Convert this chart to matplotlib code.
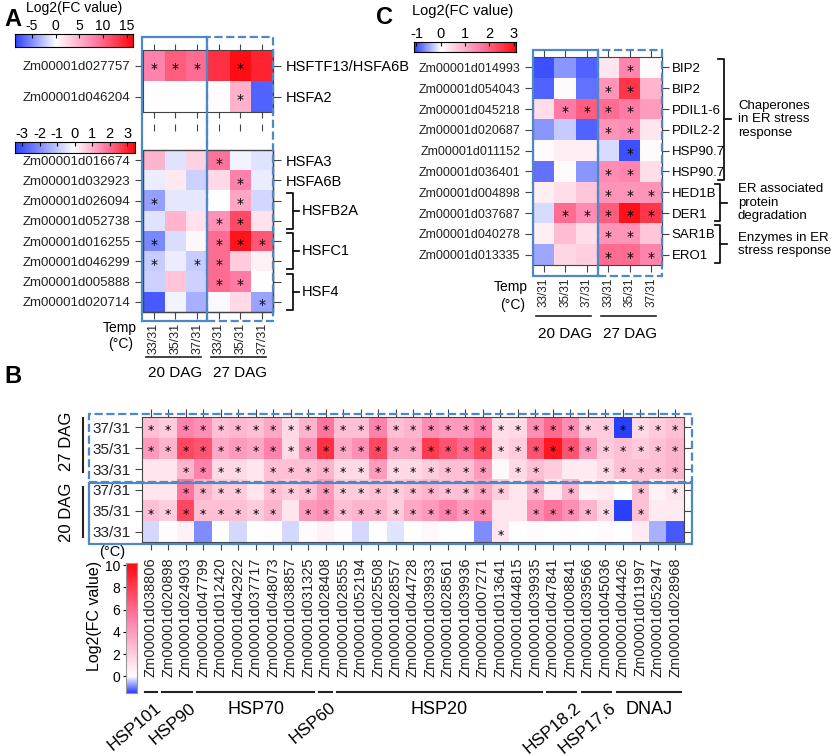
import numpy as np
import matplotlib
matplotlib.use('Agg')
import matplotlib.pyplot as plt
from matplotlib.colors import LinearSegmentedColormap, TwoSlopeNorm
from matplotlib.patches import Rectangle
from matplotlib.lines import Line2D
from matplotlib.transforms import blended_transform_factory, offset_copy

plt.rcParams['font.family'] = ['Liberation Sans', 'DejaVu Sans']
plt.rcParams['axes.unicode_minus'] = False

temps = ['33/31', '35/31', '37/31']
dag = ['20 DAG', '27 DAG']

# ---- panel A, top block (scale -8.6..16.3)
a1_genes = ['Zm00001d027757', 'Zm00001d046204']
a1_names = ['HSFTF13/HSFA6B', 'HSFA2']
a1_vals = np.array([[8.0, 10.5, 9.5, 13.5, 16.0, 14.5],
                    [0.0, 0.0, 0.0, 0.2, 5.0, -7.0]])
a1_star = np.array([[1, 1, 1, 0, 1, 0],
                    [0, 0, 0, 0, 1, 0]])

# ---- panel A, bottom block (scale -3.4..3.45)
a2_genes = ['Zm00001d016674', 'Zm00001d032923', 'Zm00001d026094', 'Zm00001d052738',
            'Zm00001d016255', 'Zm00001d046299', 'Zm00001d005888', 'Zm00001d020714']
a2_names = ['HSFA3', 'HSFA6B', '', '', '', '', '', '']
a2_groups = [('HSFB2A', 2, 3), ('HSFC1', 4, 5), ('HSF4', 6, 7)]
a2_vals = np.array([[1.0, -0.5, 0.6, 1.9, -0.2, -0.5],
                    [-0.3, 0.3, -0.8, 0.5, 1.7, -0.3],
                    [-1.7, -0.4, -0.4, 0.0, 1.2, -0.7],
                    [-0.5, 1.0, 0.4, 1.5, 2.5, 0.4],
                    [-2.1, -0.6, 0.1, 2.0, 3.3, 2.3],
                    [-0.9, -0.3, -0.9, 2.0, 0.7, 0.2],
                    [-0.8, 0.8, -0.8, 2.0, 1.8, 0.0],
                    [-2.9, -0.2, -1.4, -0.1, 0.5, -1.6]])
a2_star = np.array([[0, 0, 0, 1, 0, 0],
                    [0, 0, 0, 0, 1, 0],
                    [1, 0, 0, 0, 1, 0],
                    [0, 0, 0, 1, 1, 0],
                    [1, 0, 0, 1, 1, 1],
                    [1, 0, 1, 1, 0, 0],
                    [0, 0, 0, 1, 1, 0],
                    [0, 0, 0, 0, 0, 1]])

# ---- panel C (scale -1.1..3.1)
c_genes = ['Zm00001d014993', 'Zm00001d054043', 'Zm00001d045218', 'Zm00001d020687',
           'Zm00001d011152', 'Zm00001d036401', 'Zm00001d004898', 'Zm00001d037687',
           'Zm00001d040278', 'Zm00001d013335']
c_names = ['BIP2', 'BIP2', 'PDIL1-6', 'PDIL2-2', 'HSP90.7', 'HSP90.7',
           'HED1B', 'DER1', 'SAR1B', 'ERO1']
c_groups = [('Chaperones\nin ER stress\nresponse', 0, 5),
            ('ER associated\nprotein\ndegradation', 6, 7),
            ('Enzymes in ER\nstress response', 8, 9)]
c_vals = np.array([[-1.0, -0.6, -0.9, 0.3, 1.5, 0.05],
                   [-0.9, 0.05, -0.8, 1.3, 2.5, 0.9],
                   [0.4, 1.6, 2.0, 1.8, 1.6, 1.2],
                   [-0.6, -0.3, -0.9, 1.3, 1.4, 0.3],
                   [0.05, 0.2, 0.2, -0.2, -1.0, 0.05],
                   [-0.8, 0.05, -0.6, 1.4, 1.5, 0.4],
                   [0.2, 0.4, 0.7, 1.3, 1.3, 1.3],
                   [-0.2, 1.8, 1.4, 2.0, 3.0, 2.5],
                   [0.2, 0.8, 0.4, 1.3, 1.3, 0.7],
                   [-0.5, 0.5, 0.6, 1.8, 1.8, 1.5]])
c_star = np.array([[0, 0, 0, 0, 1, 0],
                   [0, 0, 0, 1, 1, 0],
                   [0, 1, 1, 1, 1, 0],
                   [0, 0, 0, 1, 1, 0],
                   [0, 0, 0, 0, 1, 0],
                   [0, 0, 0, 1, 1, 0],
                   [0, 0, 0, 1, 1, 1],
                   [0, 1, 1, 1, 1, 1],
                   [0, 0, 0, 1, 1, 0],
                   [0, 0, 0, 1, 1, 1]])

# ---- panel B (scale -1.5..10.2); rows: 27 DAG 37,35,33 then 20 DAG 37,35,33
b_genes = ['Zm00001d038806', 'Zm00001d020898', 'Zm00001d024903', 'Zm00001d047799',
           'Zm00001d012420', 'Zm00001d042922', 'Zm00001d037717', 'Zm00001d048073',
           'Zm00001d038857', 'Zm00001d031325', 'Zm00001d028408', 'Zm00001d028555',
           'Zm00001d052194', 'Zm00001d025508', 'Zm00001d028557', 'Zm00001d044728',
           'Zm00001d039933', 'Zm00001d028561', 'Zm00001d039936', 'Zm00001d007271',
           'Zm00001d013641', 'Zm00001d044815', 'Zm00001d039935', 'Zm00001d047841',
           'Zm00001d008841', 'Zm00001d039566', 'Zm00001d045036', 'Zm00001d044426',
           'Zm00001d011997', 'Zm00001d052947', 'Zm00001d028968']
b_rows = ['37/31', '35/31', '33/31', '37/31', '35/31', '33/31']
b_families = [('HSP101', 0, 0), ('HSP90', 1, 2), ('HSP70', 3, 9), ('HSP60', 10, 10),
              ('HSP20', 11, 22), ('HSP18.2', 23, 24), ('HSP17.6', 25, 26), ('DNAJ', 27, 30)]
b_vals = np.array([
    [2.5, 2.0, 5.0, 4.5, 2.5, 2.8, 2.5, 3.5, 1.5, 3.0, 5.5, 2.5, 2.5, 5.0, 2.5, 3.0,
     4.5, 4.0, 4.0, 5.0, 1.3, 1.5, 4.5, 6.0, 4.5, 2.0, 2.0, -1.5, 1.5, 2.0, 2.5],
    [4.0, 3.0, 7.5, 7.0, 3.5, 4.0, 3.5, 5.0, 1.5, 4.5, 8.5, 3.5, 4.5, 7.5, 3.5, 3.5,
     8.0, 7.0, 6.0, 7.5, 1.5, 2.0, 7.0, 9.5, 7.0, 4.0, 2.0, 2.5, 2.0, 2.5, 3.0],
    [1.0, 1.0, 3.0, 5.0, 1.5, 1.5, 1.0, 2.5, 2.5, 2.5, 3.0, 1.5, 1.5, 4.0, 1.5, 1.5,
     2.0, 2.5, 2.5, 4.0, 0.3, 1.5, 2.5, 2.0, 0.8, 0.8, 1.5, 2.5, 2.5, 2.5, 3.0],
    [1.0, 1.0, 5.5, 3.0, 2.0, 2.0, 1.0, 2.5, 2.0, 2.5, 4.0, 2.0, 2.0, 2.5, 2.0, 2.5,
     3.0, 2.5, 2.5, 3.5, 2.0, 1.0, 3.0, 0.8, 3.0, 0.5, 0.8, 0.0, 2.5, 0.5, 1.0],
    [2.5, 2.0, 7.5, 2.5, 2.5, 2.5, 2.0, 3.0, 1.0, 4.0, 4.5, 2.5, 3.0, 3.0, 2.0, 3.5,
     4.0, 5.0, 4.0, 4.5, 1.0, 1.0, 4.5, 5.5, 4.5, 3.0, 1.5, -1.5, 2.5, 0.8, 0.8],
    [-0.3, 0.1, 0.5, -0.9, 0.0, -0.3, 0.05, 0.1, -0.3, 0.2, 0.5, 0.1, -0.3, 0.0, -0.2, 0.0,
     0.3, 0.0, 0.05, -0.9, 1.0, 0.0, 0.2, 0.0, 0.1, 0.0, 0.2, 0.0, 0.8, -0.6, -1.3]])
b_star = np.array([
    [1] * 31,
    [1] * 31,
    [0, 0, 1, 1, 1, 1, 0, 1, 1, 1, 1, 1, 1, 1, 1, 1, 1, 1, 1, 1, 0, 1, 1, 0, 0, 0, 1, 1, 1, 1, 1],
    [0, 0, 1, 1, 1, 1, 0, 1, 1, 1, 1, 1, 1, 1, 1, 1, 1, 1, 1, 1, 1, 0, 1, 0, 1, 0, 0, 0, 1, 0, 1],
    [1, 1, 1, 1, 1, 1, 1, 1, 0, 1, 1, 1, 1, 1, 1, 1, 1, 1, 1, 1, 0, 0, 1, 1, 1, 1, 1, 0, 1, 0, 0],
    [0] * 20 + [1] + [0] * 10])

cmap = LinearSegmentedColormap.from_list(
    'fc', [(0, '#2a40ff'), (0.5, '#ffffff'), (0.75, '#ff80ac'), (1, '#ff0a10')])

W, H = 837, 756
fig = plt.figure(figsize=(W / 100, H / 100), dpi=100)


def fx(x):
    return x / W


def fy(y):
    return 1 - y / H


def add_ax(x0, y0, x1, y1):
    return fig.add_axes([fx(x0), fy(y1), (x1 - x0) / W, (y1 - y0) / H])


def ftext(x, y, s, **kw):
    fig.text(fx(x), fy(y), s, **kw)


def fline(xs, ys, **kw):
    fig.add_artist(Line2D([fx(v) for v in xs], [fy(v) for v in ys], **kw))


def fbox(x0, y0, x1, y1, ls):
    fig.add_artist(Rectangle((fx(x0), fy(y1)), (x1 - x0) / W, (y1 - y0) / H,
                             transform=fig.transFigure, fill=False,
                             ec='#4f88c6', lw=1.6, ls=ls, zorder=5))


def heatmap(rect, vals, stars, vmin, vmax, star_size=10):
    ax = add_ax(*rect)
    norm = TwoSlopeNorm(vcenter=0, vmin=vmin, vmax=vmax)
    ax.imshow(vals, cmap=cmap, norm=norm, aspect='auto', interpolation='nearest')
    tr = offset_copy(ax.transData, fig=fig, y=-2.5, units='points')
    for i, j in zip(*np.nonzero(stars)):
        ax.text(j, i, '*', ha='center', va='center', fontsize=star_size,
                family='DejaVu Sans', transform=tr)
    for s in ax.spines.values():
        s.set_color('#444444')
    ax.tick_params(color='#444444', labelcolor='#222222')
    return ax


def colorbar(rect, vmin, vmax, ticks, horizontal=True, labelsize=10.5):
    cax = add_ax(*rect)
    norm = TwoSlopeNorm(vcenter=0, vmin=vmin, vmax=vmax)
    grad = np.linspace(vmin, vmax, 256)
    if horizontal:
        cax.imshow(grad[None, :], extent=[vmin, vmax, 0, 1], aspect='auto',
                   cmap=cmap, norm=norm)
        cax.set_xticks(ticks)
        cax.set_yticks([])
        cax.xaxis.tick_top()
        cax.tick_params(axis='x', direction='in', length=3, labelsize=labelsize, pad=1)
    else:
        cax.imshow(grad[:, None], extent=[0, 1, vmin, vmax], origin='lower',
                   aspect='auto', cmap=cmap, norm=norm)
        cax.set_yticks(ticks)
        cax.set_xticks([])
        cax.tick_params(axis='y', direction='out', length=2, labelsize=labelsize, pad=2)
        for s in cax.spines.values():
            s.set_color('#999999')
    return cax


def bracket(ax, r0, r1, x, size=6, stub=6, lw=1.3):
    tr = blended_transform_factory(fig.transFigure, ax.transData)
    ya, yb = r0 - 0.4, r1 + 0.4
    xa, xb = fx(x), fx(x + size)
    ax.plot([xa, xb, xb, xa], [ya, ya, yb, yb], transform=tr, color='#111111',
            lw=lw, clip_on=False, solid_joinstyle='round')
    ym = (r0 + r1) / 2
    ax.plot([xb, fx(x + size + stub)], [ym, ym], transform=tr, color='#111111',
            lw=lw, clip_on=False)
    return ym


def dag_lines(ax, y_line, y_text, fontsize):
    tr = blended_transform_factory(ax.transData, fig.transFigure)
    for k, lab in enumerate(dag):
        ax.plot([3 * k - 0.35, 3 * k + 2.2], [fy(y_line)] * 2, transform=tr,
                color='#222222', lw=1.2, clip_on=False)
        ax.text(3 * k + 1, fy(y_text), lab, transform=tr, ha='center',
                va='center', fontsize=fontsize)


# ================= panel A =================
ftext(4, 20, 'A', fontsize=17, fontweight='bold', va='center')
ftext(74, 8, 'Log2(FC value)', fontsize=10, ha='center', va='center')
colorbar((15, 34, 133, 47), -8.6, 16.3, [-5, 0, 5, 10, 15], labelsize=10)
colorbar((15, 142, 135, 153), -3.4, 3.45, [-3, -2, -1, 0, 1, 2, 3])

axa1 = heatmap((143, 50, 273, 112), a1_vals, a1_star, -8.6, 16.3)
axa1.set_xticks(range(6))
axa1.tick_params(axis='x', top=True, bottom=True, labelbottom=False, length=4)
axa1.set_yticks(range(len(a1_genes)), labels=a1_genes, fontsize=9.5)
axa1.tick_params(axis='y', length=6, pad=3)
sec = axa1.secondary_yaxis('right')
sec.set_yticks(range(len(a1_names)), labels=a1_names, fontsize=10.5)
sec.tick_params(length=6, pad=3, color='#444444')
sec.spines['right'].set_color('#444444')

axa2 = heatmap((143, 150, 273, 312), a2_vals, a2_star, -3.4, 3.45)
axa2.spines['top'].set_position(('outward', 14))
axa2.spines['top'].set_color('none')
axa2.add_patch(Rectangle((0, 0), 1, 1, transform=axa2.transAxes, fill=False,
                         ec='#444444', lw=1, clip_on=False))
axa2.set_xticks(range(6), labels=temps * 2, rotation=90, fontsize=9)
axa2.tick_params(axis='x', top=True, bottom=True, length=5, pad=3,
                 color='#444444', labelcolor='#222222')
axa2.set_yticks(range(len(a2_genes)), labels=a2_genes, fontsize=9.5)
axa2.tick_params(axis='y', length=6, pad=3)
sec2 = axa2.secondary_yaxis('right')
sec2.set_yticks(range(len(a2_names)), labels=a2_names, fontsize=10.5)
sec2.tick_params(length=6, pad=3, color='#444444')
sec2.spines['right'].set_color('#444444')
tra2 = blended_transform_factory(fig.transFigure, axa2.transData)
for name, r0, r1 in a2_groups:
    ym = bracket(axa2, r0, r1, 287)
    axa2.text(fx(302), ym, name, transform=tra2, va='center', ha='left', fontsize=10.5)

ftext(120, 328, 'Temp', fontsize=10, ha='center', va='center')
ftext(121, 344, '(°C)', fontsize=10, ha='center', va='center')
dag_lines(axa2, 357, 373, 11)
fbox(142, 37, 207, 321, '-')
fbox(207, 37, 273, 321, '--')

# ================= panel C =================
ftext(376, 18, 'C', fontsize=17, fontweight='bold', va='center')
ftext(463, 11, 'Log2(FC value)', fontsize=10.5, ha='center', va='center')
colorbar((414, 42, 516, 52), -1.1, 3.1, [-1, 0, 1, 2, 3])

axc = heatmap((533, 57, 662, 265), c_vals, c_star, -1.1, 3.1)
axc.set_xticks(range(6), labels=temps * 2, rotation=90, fontsize=8.5)
axc.tick_params(axis='x', top=True, bottom=True, length=5, pad=4)
axc.set_yticks(range(len(c_genes)), labels=c_genes, fontsize=9)
axc.tick_params(axis='y', length=6, pad=3)
secc = axc.secondary_yaxis('right')
secc.set_yticks(range(len(c_names)), labels=c_names, fontsize=9.5)
secc.tick_params(length=5, pad=2, color='#444444')
secc.spines['right'].set_color('#444444')
trc = blended_transform_factory(fig.transFigure, axc.transData)
for (name, r0, r1), bx in zip(c_groups, [718, 715, 715]):
    ym = bracket(axc, r0, r1, bx, size=6 if r1 - r0 > 2 else 5, stub=7)
    axc.text(fx(738), ym, name, transform=trc, va='center', ha='left',
             fontsize=9.5, linespacing=1.15)

ftext(511, 287, 'Temp', fontsize=10, ha='center', va='center')
ftext(513, 305, '(°C)', fontsize=10, ha='center', va='center')
dag_lines(axc, 316, 334, 11)
fbox(533, 50, 598, 276, '-')
fbox(598, 50, 662, 276, '--')

# ================= panel B =================
ftext(4, 377, 'B', fontsize=17, fontweight='bold', va='center')
axb = heatmap((142, 417, 684, 542), b_vals, b_star, -1.5, 10.2, star_size=9)
axb.set_xticks(range(len(b_genes)), labels=b_genes, rotation=90, fontsize=10.5)
axb.tick_params(axis='x', top=True, bottom=True, length=6, pad=5)
axb.set_yticks(range(len(b_rows)), labels=b_rows, fontsize=11)
axb.tick_params(axis='y', left=True, right=True, length=5, pad=3)

ftext(67, 441, '27 DAG', fontsize=12, rotation=90, ha='center', va='center')
ftext(67, 512, '20 DAG', fontsize=12, rotation=90, ha='center', va='center')
fline([83, 83], [418, 472], color='#222222', lw=1.5)
fline([83, 83], [487, 537], color='#222222', lw=1.5)
ftext(112, 552, '(°C)', fontsize=10.5, ha='center', va='center')
fbox(89, 414, 692, 482, '--')
fbox(89, 483, 692, 544, '-')

trb = blended_transform_factory(axb.transData, fig.transFigure)
for name, c0, c1 in b_families:
    axb.plot([c0 - 0.35, c1 + 0.35], [fy(692)] * 2, transform=trb, color='#222222',
             lw=1.5, clip_on=False)
    if c1 - c0 < 3:
        axb.text(c1 + 0.2, fy(700), name, transform=trb, rotation=40,
                 rotation_mode='anchor', ha='right', va='top', fontsize=12.5)
    else:
        axb.text((c0 + c1) / 2, fy(709), name, transform=trb, ha='center',
                 va='center', fontsize=13)

colorbar((126, 563, 137, 693), -1.5, 10.2, [0, 2, 4, 6, 8, 10], horizontal=False, labelsize=10)
ftext(95, 616, 'Log2(FC value)', fontsize=11.5, rotation=90, ha='center', va='center')

fig.savefig('out.png', dpi=100)
